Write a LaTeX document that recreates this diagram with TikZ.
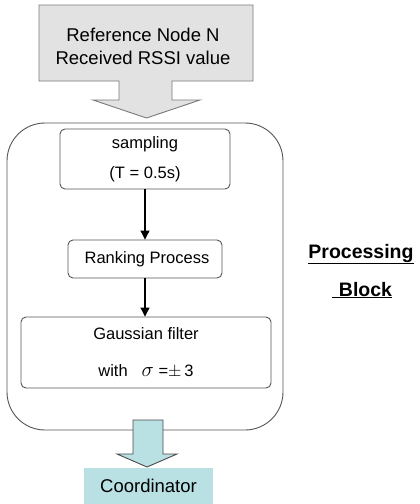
\documentclass[tikz,border=0pt]{standalone}
\usepackage{fontspec}
\setmainfont{Liberation Sans}
\usetikzlibrary{arrows.meta}
\definecolor{grayfill}{HTML}{E2E2E2}
\definecolor{grayline}{HTML}{7A7A7A}
\definecolor{boxline}{HTML}{555555}
\definecolor{tealfill}{HTML}{B9E0E3}
\definecolor{arrline}{HTML}{4A4A4A}
\tikzset{
  stepbox/.style={draw=boxline, line width=0.9pt, rounded corners=5pt, inner sep=0pt, align=center,
    font=\fontsize{16.5}{19.5}\selectfont},
  flowarrow/.style={line width=1.1pt, -{Triangle[width=9pt,length=9pt]}},
  lbl/.style={inner sep=0pt, font=\fontsize{19.5}{23}\selectfont\bfseries},
}
\begin{document}
\begin{tikzpicture}[x=1pt,y=-1pt]
\useasboundingbox (0,0) rectangle (420,504);
% input block arrow
\draw[fill=grayfill, draw=grayline, line width=0.9pt]
  (39,5) -- (253,5) -- (253,81) -- (172,81) -- (172,100) -- (200,100) -- (146.5,118)
  -- (93,100) -- (119,100) -- (119,81) -- (39,81) -- cycle;
\node[inner sep=0pt, align=center, font=\fontsize{18.5}{23}\selectfont] (src) at (143,46.5)
  {Reference Node N\\Received RSSI value};
% outer processing block
\node[draw=boxline, line width=0.9pt, rounded corners=38pt, minimum width=276pt, minimum height=307pt, inner sep=0pt]
  (proc) at (145,276.5) {};
% inner steps
\node[stepbox, minimum width=170pt, minimum height=60pt] (samp) at (145,159)
  {sampling\\[10.5pt](T = 0.5s)};
\node[stepbox, minimum width=154pt, minimum height=38pt] (rank) at (145,259)
  {\hspace{4pt}Ranking Process};
\node[stepbox, minimum width=250pt, minimum height=71pt] (gauss) at (146,352.5)
  {Gaussian filter\hspace{8pt}\\[17pt]with\hspace{14pt}{\fontsize{21}{21}\selectfont$\sigma$} =$\pm$\,3};
\draw[flowarrow] (samp.south) -- (rank.north);
\draw[flowarrow] (rank.south) -- (rank.south |- gauss.north);
% output block arrow
\draw[fill=tealfill, draw=arrline, line width=0.9pt]
  (133,420) -- (163,420) -- (163,454) -- (177,454) -- (147,467) -- (117,454) -- (133,454) -- cycle;
\node[fill=tealfill, minimum width=129pt, minimum height=36pt, inner sep=0pt,
  font=\fontsize{18.5}{22}\selectfont] (coord) at (148.5,486) {Coordinator};
% label
\node[lbl, anchor=base] (plabel) at (361,258) {\underline{Processing}};
\node[lbl, anchor=base] (blabel) at (362,296) {\underline{\hspace{7pt}Block}};
\end{tikzpicture}
\end{document}
